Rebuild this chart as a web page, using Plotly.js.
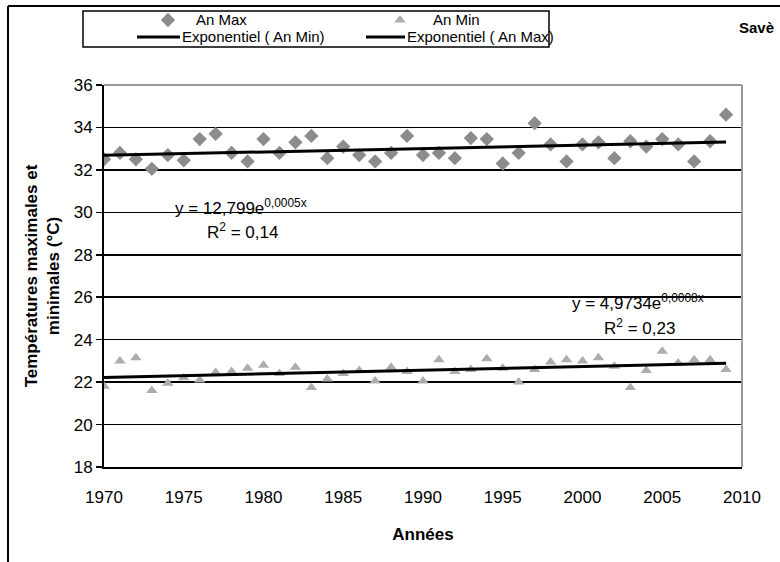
<!DOCTYPE html>
<html>
<head>
<meta charset="utf-8">
<script src="https://cdn.plot.ly/plotly-3.0.1.min.js"></script>
<style>html,body{margin:0;padding:0;background:#fff;}#chart{width:780px;height:562px;}</style>
</head>
<body>
<div id="chart"></div>
<script>
// ---- data ----
const years = [1970,1971,1972,1973,1974,1975,1976,1977,1978,1979,1980,1981,1982,1983,1984,1985,1986,1987,1988,1989,
               1990,1991,1992,1993,1994,1995,1996,1997,1998,1999,2000,2001,2002,2003,2004,2005,2006,2007,2008,2009];
const anMax = [32.5,32.8,32.5,32.05,32.7,32.45,33.45,33.7,32.8,32.4,33.45,32.8,33.3,33.6,32.55,33.1,32.7,32.4,32.8,33.6,
               32.7,32.8,32.55,33.5,33.45,32.3,32.8,34.2,33.2,32.4,33.2,33.3,32.55,33.35,33.1,33.45,33.2,32.4,33.35,34.6];
const anMin = [21.8,23.0,23.15,21.6,21.95,22.2,22.1,22.45,22.5,22.65,22.8,22.4,22.7,21.75,22.15,22.4,22.55,22.05,22.7,22.5,
               22.05,23.05,22.5,22.6,23.1,22.65,22.0,22.6,22.95,23.05,23.0,23.15,22.75,21.75,22.55,23.45,22.9,23.05,23.05,22.6];
const xTicks = [1970,1975,1980,1985,1990,1995,2000,2005,2010];
const yTicks = [18,20,22,24,26,28,30,32,34,36];

// exponential least-squares fit (as Excel trendline: ln y = a + b x)
function expFit(x, y){
  const n = x.length; const x0 = x[0];
  let sx=0, sy=0, sxx=0, sxy=0;
  for(let i=0;i<n;i++){const xi=x[i]-x0, ly=Math.log(y[i]); sx+=xi; sy+=ly; sxx+=xi*xi; sxy+=xi*ly;}
  const b=(n*sxy-sx*sy)/(n*sxx-sx*sx), a=(sy-b*sx)/n;
  return x.map(v=>Math.exp(a+b*(v-x0)));
}
const trendMax = expFit(years, anMax);
const trendMin = expFit(years, anMin);

const W=780, H=562;
const PL=104, PR=742, PT=85, PB=467;
const font = 'Liberation Sans, Arial, sans-serif';
const FS = 17;

const traces = [
  {x:years, y:anMax, type:'scatter', mode:'markers', name:'An Max', showlegend:false,
   marker:{symbol:'diamond', size:11, color:'#8c8c8c'}},
  {x:years, y:anMin, type:'scatter', mode:'markers', name:'An Min', showlegend:false,
   marker:{symbol:'triangle-up', size:10, color:'#adadad'}},
  {x:years, y:trendMin, type:'scatter', mode:'lines', name:'Exponentiel ( An Min)', showlegend:false,
   line:{color:'#000', width:3}},
  {x:years, y:trendMax, type:'scatter', mode:'lines', name:'Exponentiel ( An Max)', showlegend:false,
   line:{color:'#000', width:3}},
  // legend symbols on a pixel overlay
  {x:[168], y:[20], xaxis:'x2', yaxis:'y2', type:'scatter', mode:'markers', showlegend:false, hoverinfo:'skip',
   marker:{symbol:'diamond', size:11, color:'#8c8c8c'}},
  {x:[400], y:[20], xaxis:'x2', yaxis:'y2', type:'scatter', mode:'markers', showlegend:false, hoverinfo:'skip',
   marker:{symbol:'triangle-up', size:10, color:'#adadad'}},
  {x:[137,180], y:[37,37], xaxis:'x2', yaxis:'y2', type:'scatter', mode:'lines', showlegend:false, hoverinfo:'skip',
   line:{color:'#000', width:3}},
  {x:[366,405], y:[37,37], xaxis:'x2', yaxis:'y2', type:'scatter', mode:'lines', showlegend:false, hoverinfo:'skip',
   line:{color:'#000', width:3}}
];

const px = v => v/W, py = v => 1 - v/H;

const layout = {
  width:W, height:H, margin:{l:0,r:0,t:0,b:0}, paper_bgcolor:'#fff', plot_bgcolor:'rgba(0,0,0,0)',
  showlegend:false,
  font:{family:font, size:FS, color:'#000'},
  xaxis:{domain:[px(PL), px(PR)], range:[1970,2010], tickvals:xTicks, ticktext:xTicks.map(String),
    showgrid:false, zeroline:false, showline:true, linecolor:'#000', linewidth:2,
    ticks:'', ticklabelstandoff:14, tickfont:{size:FS}, title:{text:'<b>Années</b>', font:{size:FS}, standoff:22}},
  yaxis:{domain:[py(PB), py(PT)], range:[18,36], tickvals:yTicks, ticktext:yTicks.map(String),
    showgrid:true, gridcolor:'#000', gridwidth:1.5, zeroline:false, showline:true, linecolor:'#000', linewidth:2,
    ticks:'outside', ticklen:6, tickcolor:'#000', tickwidth:1.5, tickfont:{size:FS},
    title:{text:'<b>Températures maximales et<br>minimales (°C)</b>', font:{size:FS}, standoff:10}},
  xaxis2:{domain:[0,1], range:[0,W], visible:false, fixedrange:true, anchor:'y2'},
  yaxis2:{domain:[0,1], range:[H,0], visible:false, fixedrange:true, anchor:'x2'},
  shapes:[
    // outer frame
    {type:'line', xref:'paper', yref:'paper', x0:px(8), x1:px(8), y0:0, y1:py(6), line:{color:'#000', width:2}},
    {type:'line', xref:'paper', yref:'paper', x0:px(8), x1:1, y0:py(6), y1:py(6), line:{color:'#000', width:2}},
    // legend box
    {type:'rect', xref:'paper', yref:'paper', x0:px(83), x1:px(549), y0:py(47), y1:py(11), line:{color:'#000', width:1.5}},
    // plot area top/right border (grey)
    {type:'line', xref:'paper', yref:'paper', x0:px(PL), x1:px(PR), y0:py(PT), y1:py(PT), line:{color:'#999', width:2}},
    {type:'line', xref:'paper', yref:'paper', x0:px(PR), x1:px(PR), y0:py(PB), y1:py(PT), line:{color:'#999', width:2}}
  ],
  annotations:[
    {xref:'paper', yref:'paper', x:px(194), y:py(20), xanchor:'left', yanchor:'middle', text:'An Max', showarrow:false, font:{size:15}},
    {xref:'paper', yref:'paper', x:px(431), y:py(20), xanchor:'left', yanchor:'middle', text:'An Min', showarrow:false, font:{size:15}},
    {xref:'paper', yref:'paper', x:px(180), y:py(37), xanchor:'left', yanchor:'middle', text:'Exponentiel ( An Min)', showarrow:false, font:{size:15}},
    {xref:'paper', yref:'paper', x:px(405), y:py(37), xanchor:'left', yanchor:'middle', text:'Exponentiel ( An Max)', showarrow:false, font:{size:15}},
    {xref:'paper', yref:'paper', x:px(737), y:py(27), xanchor:'left', yanchor:'middle', text:'<b>Savè</b>', showarrow:false, font:{size:15}},
    {xref:'paper', yref:'paper', x:px(173), y:py(207), xanchor:'left', yanchor:'middle', text:'y = 12,799e<sup>0,0005x</sup>', showarrow:false, font:{size:FS}},
    {xref:'paper', yref:'paper', x:px(205), y:py(231), xanchor:'left', yanchor:'middle', text:'R<sup>2</sup> = 0,14', showarrow:false, font:{size:FS}},
    {xref:'paper', yref:'paper', x:px(570), y:py(302), xanchor:'left', yanchor:'middle', text:'y = 4,9734e<sup>0,0008x</sup>', showarrow:false, font:{size:FS}},
    {xref:'paper', yref:'paper', x:px(602), y:py(327), xanchor:'left', yanchor:'middle', text:'R<sup>2</sup> = 0,23', showarrow:false, font:{size:FS}}
  ]
};

Plotly.newPlot('chart', traces, layout, {displayModeBar:false, staticPlot:true});
</script>
</body>
</html>
